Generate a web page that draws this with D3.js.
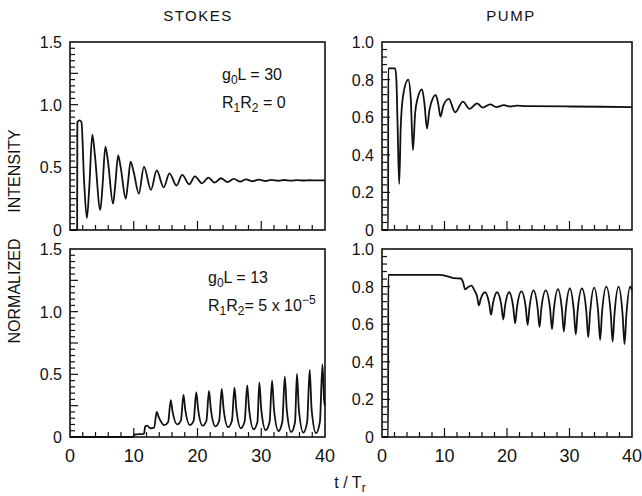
<!DOCTYPE html>
<html>
<head>
<meta charset="utf-8">
<script src="https://cdn.jsdelivr.net/npm/d3@7"></script>
<style>
  html, body { margin: 0; padding: 0; background: #fff; }
  svg text { font-family: "Liberation Sans", Arial, Helvetica, sans-serif; fill: #111; }
</style>
</head>
<body>
<svg id="chart" width="642" height="496"></svg>
<script>
// ---------- DATA ----------
const xTickValues = [0, 10, 20, 30, 40];
const stokesYTicks = [0, 0.5, 1.0, 1.5];
const stokesYLabels = ["0", "0.5", "1.0", "1.5"];
const pumpYTicks = [0, 0.2, 0.4, 0.6, 0.8, 1.0];
const pumpYLabels = ["0", "0.2", "0.4", "0.6", "0.8", "1.0"];
const columnTitles = ["STOKES", "PUMP"];

// Stokes, g0L = 30, R1R2 = 0
const stokesTopT = [0, 1.12, 1.15, 1.5, 1.8, 2.2, 2.65, 3.0, 3.5, 3.9, 4.75, 5.1, 5.55, 5.95, 6.75, 7.1, 7.55, 7.95, 8.75, 9.1, 9.5, 10.0, 10.8, 11.6, 12.7, 13.6, 14.7, 15.6, 16.7, 17.6, 18.7, 19.6, 20.7, 21.7, 22.7, 23.7, 24.7, 25.7, 26.7, 27.6, 28.7, 29.6, 30.7, 31.6, 32.7, 33.6, 34.7, 35.6, 36.7, 37.6, 38.7, 40];
const stokesTopV = [0, 0, 0.86, 0.875, 0.86, 0.4, 0.095, 0.32, 0.76, 0.6, 0.16, 0.35, 0.665, 0.55, 0.21, 0.36, 0.595, 0.5, 0.25, 0.38, 0.545, 0.46, 0.29, 0.505, 0.32, 0.475, 0.34, 0.452, 0.355, 0.44, 0.365, 0.428, 0.372, 0.418, 0.378, 0.413, 0.382, 0.408, 0.386, 0.404, 0.389, 0.402, 0.391, 0.400, 0.393, 0.399, 0.394, 0.398, 0.395, 0.397, 0.396, 0.396];

// Pump, g0L = 30, R1R2 = 0
const pumpTopT = [0, 0.98, 1.0, 2.1, 2.3, 2.5, 2.75, 3.0, 3.4, 4.2, 4.6, 4.95, 5.3, 5.7, 6.4, 6.8, 7.2, 7.6, 8.6, 9.0, 9.35, 9.8, 10.7, 11.7, 12.95, 14.0, 15.2, 16.1, 17.3, 18.3, 19.5, 20.5, 21.6, 23.0, 30.0, 40.0];
const pumpTopV = [0, 0, 0.86, 0.86, 0.80, 0.55, 0.245, 0.55, 0.72, 0.80, 0.70, 0.425, 0.62, 0.70, 0.748, 0.67, 0.54, 0.64, 0.718, 0.67, 0.603, 0.66, 0.697, 0.626, 0.683, 0.644, 0.674, 0.651, 0.668, 0.654, 0.664, 0.657, 0.662, 0.659, 0.657, 0.654];

// Stokes, g0L = 13, R1R2 = 5x10^-5
const stokesBotT = [0, 9.9, 10.1, 11.6, 11.8, 12.1, 12.6, 13.2, 13.6, 13.9, 14.8, 15.4, 15.8, 16.1, 16.8, 17.4, 17.8, 18.1, 18.8, 19.4, 19.8, 20.1, 20.8, 21.4, 21.8, 22.1, 22.8, 23.4, 23.8, 24.1, 24.8, 25.4, 25.8, 26.1, 26.8, 27.4, 27.8, 28.1, 28.8, 29.4, 29.7, 30.0, 30.7, 31.3, 31.7, 32.0, 32.7, 33.3, 33.7, 34.0, 34.7, 35.3, 35.6, 35.9, 36.6, 37.2, 37.6, 37.9, 38.6, 39.2, 39.6, 39.85, 40];
const stokesBotV = [0, 0, 0.02, 0.025, 0.085, 0.09, 0.07, 0.075, 0.2, 0.16, 0.095, 0.12, 0.295, 0.2, 0.1, 0.13, 0.335, 0.21, 0.095, 0.13, 0.357, 0.22, 0.09, 0.13, 0.367, 0.22, 0.085, 0.13, 0.383, 0.22, 0.078, 0.13, 0.394, 0.22, 0.07, 0.125, 0.412, 0.22, 0.062, 0.12, 0.436, 0.22, 0.055, 0.12, 0.45, 0.22, 0.048, 0.12, 0.482, 0.22, 0.04, 0.12, 0.503, 0.22, 0.035, 0.12, 0.535, 0.22, 0.03, 0.12, 0.58, 0.3, 0.25];

// Pump, g0L = 13, R1R2 = 5x10^-5
const pumpBotT = [0, 0.98, 1.0, 9.0, 10.5, 11.5, 12.6, 13.0, 13.3, 13.7, 14.3, 14.8, 15.2, 15.5, 15.8, 16.5, 17.15, 17.45, 17.75, 18.4, 19.1, 19.4, 19.7, 20.35, 21.0, 21.3, 21.6, 22.3, 23.0, 23.3, 23.6, 24.25, 24.9, 25.2, 25.5, 26.2, 26.9, 27.2, 27.5, 28.15, 28.8, 29.1, 29.4, 30.05, 30.7, 31.0, 31.3, 32.0, 32.7, 33.0, 33.3, 33.95, 34.6, 34.9, 35.2, 35.9, 36.6, 36.9, 37.2, 37.85, 38.5, 38.8, 39.1, 39.7, 40];
const pumpBotV = [0, 0, 0.862, 0.862, 0.855, 0.845, 0.843, 0.82, 0.785, 0.795, 0.805, 0.78, 0.75, 0.70, 0.735, 0.77, 0.71, 0.65, 0.71, 0.77, 0.70, 0.625, 0.70, 0.77, 0.69, 0.605, 0.69, 0.775, 0.69, 0.596, 0.69, 0.78, 0.685, 0.585, 0.685, 0.78, 0.68, 0.573, 0.68, 0.787, 0.675, 0.56, 0.675, 0.79, 0.67, 0.545, 0.67, 0.79, 0.665, 0.53, 0.665, 0.795, 0.66, 0.516, 0.66, 0.80, 0.655, 0.507, 0.655, 0.80, 0.65, 0.495, 0.65, 0.80, 0.78];

// ---------- LAYOUT ----------
const svg = d3.select("#chart");
const panels = [
  { t: stokesTopT, v: stokesTopV, left: 70, right: 325, top: 42, bottom: 230, ymax: 1.5, yt: stokesYTicks, yl: stokesYLabels, minor: 0.05, major: 0.25, xlabels: false },
  { t: pumpTopT, v: pumpTopV, left: 382, right: 632, top: 42, bottom: 230, ymax: 1.0, yt: pumpYTicks, yl: pumpYLabels, minor: 0.04, major: 0.2, xlabels: false },
  { t: stokesBotT, v: stokesBotV, left: 70, right: 325, top: 249, bottom: 437, ymax: 1.5, yt: stokesYTicks, yl: stokesYLabels, minor: 0.05, major: 0.25, xlabels: true },
  { t: pumpBotT, v: pumpBotV, left: 382, right: 632, top: 249, bottom: 437, ymax: 1.0, yt: pumpYTicks, yl: pumpYLabels, minor: 0.04, major: 0.2, xlabels: true }
];

panels.forEach(p => {
  const x = d3.scaleLinear().domain([0, 40]).range([p.left, p.right]);
  const y = d3.scaleLinear().domain([0, p.ymax]).range([p.bottom, p.top]);
  const g = svg.append("g");

  // minor / major inner ticks on y
  const nY = Math.round(p.ymax / p.minor);
  d3.range(1, nY).forEach(i => {
    const val = i * p.minor;
    const isMajor = Math.abs(val / p.major - Math.round(val / p.major)) < 1e-6;
    g.append("line").attr("x1", p.left).attr("x2", p.left + (isMajor ? 8 : 5))
      .attr("y1", y(val)).attr("y2", y(val)).attr("stroke", "#111").attr("stroke-width", 1.2);
  });
  // inner ticks on x, every 2
  d3.range(2, 40, 2).forEach(val => {
    const isMajor = val % 10 === 0;
    g.append("line").attr("x1", x(val)).attr("x2", x(val))
      .attr("y1", p.bottom).attr("y2", p.bottom - (isMajor ? 9 : 5)).attr("stroke", "#111").attr("stroke-width", 1.2);
  });

  // y labels
  p.yt.forEach((val, i) => {
    g.append("text").attr("x", p.left - 8).attr("y", y(val) + 6)
      .attr("text-anchor", "end").attr("font-size", 16).text(p.yl[i]);
  });
  if (p.xlabels) {
    xTickValues.forEach(val => {
      g.append("text").attr("x", x(val)).attr("y", p.bottom + 25)
        .attr("text-anchor", "middle").attr("font-size", 18).text(String(val));
    });
  }

  // data line
  const line = d3.line().x((d, i) => x(p.t[i])).y((d, i) => y(p.v[i])).curve(d3.curveMonotoneX);
  g.append("path").datum(p.v).attr("d", line).attr("fill", "none")
    .attr("stroke", "#111").attr("stroke-width", 1.8).attr("stroke-linejoin", "round");

  // frame
  g.append("rect").attr("x", p.left).attr("y", p.top)
    .attr("width", p.right - p.left).attr("height", p.bottom - p.top)
    .attr("fill", "none").attr("stroke", "#111").attr("stroke-width", 1.6);
});

// column titles
svg.append("text").attr("x", 198).attr("y", 21).attr("text-anchor", "middle")
  .attr("font-size", 15).attr("letter-spacing", 1.5).text(columnTitles[0]);
svg.append("text").attr("x", 511).attr("y", 21).attr("text-anchor", "middle")
  .attr("font-size", 15).attr("letter-spacing", 1.5).text(columnTitles[1]);

// y-axis title (rotated)
svg.append("text").attr("transform", "translate(20,291) rotate(-90)").attr("text-anchor", "middle")
  .attr("font-size", 16).text("NORMALIZED");
svg.append("text").attr("transform", "translate(20,171) rotate(-90)").attr("text-anchor", "middle")
  .attr("font-size", 16).text("INTENSITY");

// x-axis title t / Tr
const xt = svg.append("text").attr("x", 350).attr("y", 488).attr("text-anchor", "middle").attr("font-size", 16);
xt.append("tspan").text("t / T");
xt.append("tspan").attr("dy", 4).attr("font-size", 12).text("r");

// annotations
function param(xp, yp, main, sub, rest) {
  const t = svg.append("text").attr("x", xp).attr("y", yp).attr("font-size", 16);
  t.append("tspan").text(main);
  t.append("tspan").attr("dy", 4).attr("font-size", 12).text(sub);
  t.append("tspan").attr("dy", -4).text(rest);
  return t;
}
param(222, 80, "g", "0", "L = 30");
const r1 = svg.append("text").attr("x", 222).attr("y", 108).attr("font-size", 16);
r1.append("tspan").text("R");
r1.append("tspan").attr("dy", 4).attr("font-size", 12).text("1");
r1.append("tspan").attr("dy", -4).text("R");
r1.append("tspan").attr("dy", 4).attr("font-size", 12).text("2");
r1.append("tspan").attr("dy", -4).text(" = 0");

param(208, 283, "g", "0", "L = 13");
const r2 = svg.append("text").attr("x", 208).attr("y", 311).attr("font-size", 16);
r2.append("tspan").text("R");
r2.append("tspan").attr("dy", 4).attr("font-size", 12).text("1");
r2.append("tspan").attr("dy", -4).text("R");
r2.append("tspan").attr("dy", 4).attr("font-size", 12).text("2");
r2.append("tspan").attr("dy", -4).text("= 5 x 10");
r2.append("tspan").attr("dy", -7).attr("font-size", 12).text("−5");
</script>
</body>
</html>
